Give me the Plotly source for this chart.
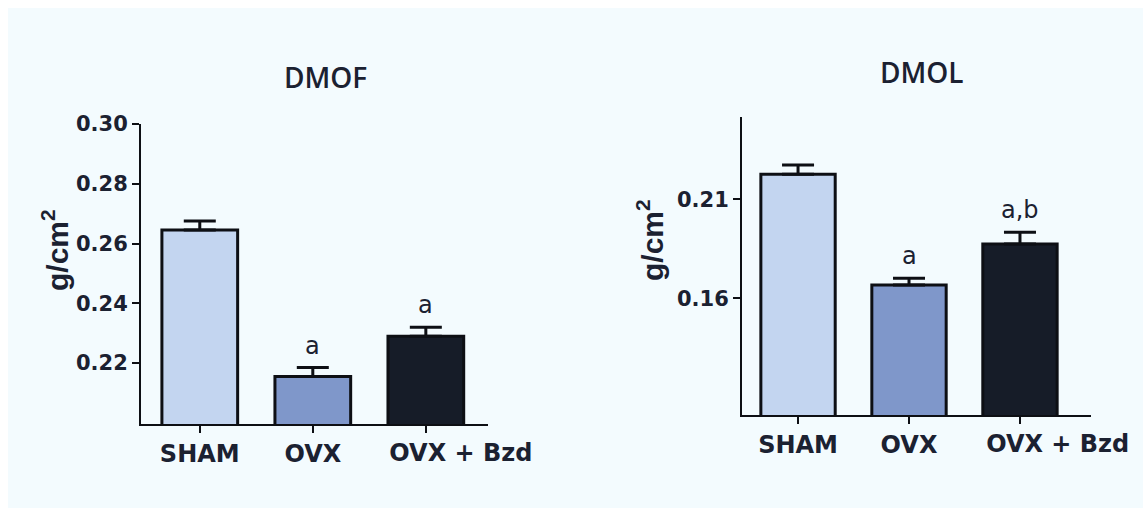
import plotly.graph_objects as go

# Bone mineral density by group (g/cm^2), mean with upper SEM
groups = ["SHAM", "OVX", "OVX + Bzd"]
# labels printed right under the ticks; the last group's label sits off to the right
tick_labels = ["SHAM", "OVX", ""]
offset_label = "OVX + Bzd"
bar_colors = ["#c3d5f0", "#7f97ca", "#161c28"]

dmof_mean = [0.2645, 0.2155, 0.229]
dmof_sem = [0.003, 0.003, 0.003]
dmof_marks = ["", "a", "a"]

dmol_mean = [0.2226, 0.1666, 0.1873]
dmol_sem = [0.0046, 0.0035, 0.006]
dmol_marks = ["", "a", "a,b"]

W, H = 1143, 508
INK = "#1b2131"
TICK_FONT = dict(family="DejaVu Sans", size=21, color=INK, weight="bold")
CAT_FONT = dict(family="DejaVu Sans", size=24, color=INK, weight="bold")


def px_x(p):
    return p / W


def px_y(p):
    return 1 - p / H


fig = go.Figure()

panels = [
    ("x", "y", "x3", 2.31, dmof_mean, dmof_sem, dmof_marks),
    ("x2", "y2", "x4", 2.34, dmol_mean, dmol_sem, dmol_marks),
]
for xa, ya, xlab, lab_pos, mean, sem, marks in panels:
    fig.add_trace(go.Bar(
        x=groups, y=mean, xaxis=xa, yaxis=ya, width=0.67,
        marker=dict(color=bar_colors, line=dict(color="#0d0f14", width=3)),
        error_y=dict(type="data", array=sem, arrayminus=[0] * len(sem),
                     symmetric=False, color="#0d0f14", thickness=3, width=16),
        showlegend=False,
    ))
    # transparent point so the label-only overlay axis gets drawn
    fig.add_trace(go.Scatter(
        x=[lab_pos], y=[mean[-1]], xaxis=xlab, yaxis=ya, mode="markers",
        marker=dict(opacity=0), hoverinfo="skip", showlegend=False,
    ))
    for g, m, s, t in zip(groups, mean, sem, marks):
        if t:
            fig.add_annotation(x=g, y=m + s, xref=xa, yref=ya, text=t,
                               showarrow=False, yanchor="middle", yshift=22,
                               font=dict(family="DejaVu Sans", size=24, color=INK))

axis_common = dict(showline=True, linecolor="#0d0f14", linewidth=2,
                   showgrid=False, zeroline=False, ticks="outside",
                   ticklen=7, tickwidth=2, tickcolor="#0d0f14",
                   automargin=False)
cat_axis = dict(tickvals=groups, ticktext=tick_labels, tickfont=CAT_FONT,
                tickangle=0)
# label-only axis laid over a category axis (invisible ticks keep the same offset)
label_axis = dict(type="linear", showline=False, showgrid=False, zeroline=False,
                  ticks="outside", ticklen=7, tickwidth=2,
                  tickcolor="rgba(0,0,0,0)", tickfont=CAT_FONT, tickangle=0,
                  ticktext=[offset_label], automargin=False, side="bottom")

x1_range = [-0.52, 2.55]
x2_range = [-0.505, 2.64]

fig.update_layout(
    template="none",
    width=W, height=H, autosize=False,
    margin=dict(l=0, r=0, t=0, b=0, pad=0),
    paper_bgcolor="white",
    plot_bgcolor="rgba(0,0,0,0)",
    xaxis=dict(domain=[px_x(141), px_x(488)], range=x1_range,
               anchor="y", **cat_axis, **axis_common),
    yaxis=dict(domain=[px_y(424), px_y(124)], range=[0.1996, 0.30],
               anchor="x", tickvals=[0.22, 0.24, 0.26, 0.28, 0.30],
               tickformat=".2f", tickfont=TICK_FONT, **axis_common),
    xaxis2=dict(domain=[px_x(742), px_x(1091)], range=x2_range,
                anchor="y2", **cat_axis, **axis_common),
    yaxis2=dict(domain=[px_y(415), px_y(117)], range=[0.101, 0.2515],
                anchor="x2", tickvals=[0.16, 0.21],
                tickformat=".2f", tickfont=TICK_FONT, **axis_common),
    xaxis3=dict(overlaying="x", anchor="y", range=x1_range,
                tickvals=[2.31], **label_axis),
    xaxis4=dict(overlaying="x2", anchor="y2", range=x2_range,
                tickvals=[2.34], **label_axis),
    shapes=[dict(type="rect", xref="paper", yref="paper", layer="below",
                 x0=px_x(8), x1=1, y0=0, y1=px_y(8),
                 fillcolor="#f3fbfe", line=dict(width=0))],
)

# Panel titles
for text, cx, cy in [("DMOF", 325, 77), ("DMOL", 922, 72)]:
    fig.add_annotation(x=px_x(cx), y=px_y(cy), xref="paper", yref="paper",
                       text=text, showarrow=False, xanchor="center", yanchor="middle",
                       font=dict(family="Open Sans", size=28, color=INK, weight=600))

# Y-axis unit labels
for cx, cy in [(55, 250), (650, 240)]:
    fig.add_annotation(x=px_x(cx), y=px_y(cy), xref="paper", yref="paper",
                       text="g/cm<sup>2</sup>", textangle=-90, showarrow=False,
                       xanchor="center", yanchor="middle",
                       font=dict(family="Liberation Sans", size=30, color=INK,
                                 weight="bold"))

fig.write_html("out.html")
